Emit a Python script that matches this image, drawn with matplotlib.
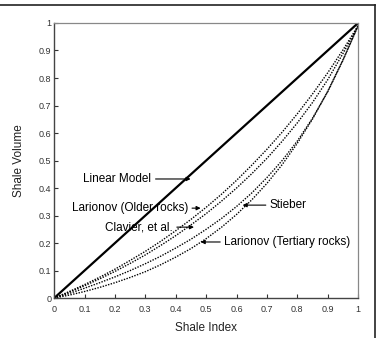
import matplotlib.pyplot as plt
from matplotlib.lines import Line2D

plt.rcParams['font.family'] = ['Liberation Sans', 'DejaVu Sans']

# Valeurs (indice de schiste -> volume de schiste)
shale_index = [0.0, 0.05, 0.1, 0.15, 0.2, 0.25, 0.3, 0.35, 0.4, 0.45, 0.5,
               0.55, 0.6, 0.65, 0.7, 0.75, 0.8, 0.85, 0.9, 0.95, 1.0]
linear_model = [0.0, 0.05, 0.1, 0.15, 0.2, 0.25, 0.3, 0.35, 0.4, 0.45, 0.5,
                0.55, 0.6, 0.65, 0.7, 0.75, 0.8, 0.85, 0.9, 0.95, 1.0]
larionov_older = [0.0, 0.024, 0.049, 0.076, 0.105, 0.137, 0.170, 0.206, 0.245, 0.286, 0.330,
                  0.377, 0.428, 0.483, 0.541, 0.603, 0.670, 0.742, 0.819, 0.902, 0.99]
clavier = [0.0, 0.022, 0.045, 0.070, 0.097, 0.126, 0.157, 0.191, 0.227, 0.266, 0.307,
           0.352, 0.400, 0.452, 0.508, 0.570, 0.637, 0.711, 0.794, 0.889, 0.99]
stieber = [0.0, 0.017, 0.036, 0.056, 0.077, 0.100, 0.125, 0.152, 0.182, 0.214, 0.250,
           0.289, 0.333, 0.382, 0.438, 0.500, 0.571, 0.654, 0.750, 0.864, 0.99]
larionov_tertiary = [0.0, 0.011, 0.024, 0.039, 0.056, 0.075, 0.096, 0.121, 0.149, 0.180, 0.216,
                     0.257, 0.304, 0.357, 0.417, 0.485, 0.563, 0.651, 0.752, 0.866, 0.99]

ticks = [0, 0.1, 0.2, 0.3, 0.4, 0.5, 0.6, 0.7, 0.8, 0.9, 1]
tick_labels = ['0', '0.1', '0.2', '0.3', '0.4', '0.5', '0.6', '0.7', '0.8', '0.9', '1']

fig = plt.figure(figsize=(3.81, 3.38), dpi=100)
ax = fig.add_axes([0.142, 0.118, 0.798, 0.814])

dot = (0, (1, 1))
ax.plot(shale_index, linear_model, color='black', lw=1.6, solid_capstyle='round')
ax.plot(shale_index, larionov_older, color='black', lw=1.0, linestyle=dot)
ax.plot(shale_index, clavier, color='black', lw=1.0, linestyle=dot)
ax.plot(shale_index, stieber, color='black', lw=1.0, linestyle=dot)
ax.plot(shale_index, larionov_tertiary, color='black', lw=1.0, linestyle=dot)

ax.set_xlim(0, 1)
ax.set_ylim(0, 1)
ax.set_xticks(ticks)
ax.set_xticklabels(tick_labels)
ax.set_yticks(ticks)
ax.set_yticklabels(tick_labels)
ax.tick_params(direction='in', length=3, width=0.8, labelsize=6.5, colors='#333333')
ax.tick_params(axis='x', pad=5)
ax.tick_params(axis='y', pad=2)

for side in ['left', 'bottom']:
    ax.spines[side].set_color('#444444')
    ax.spines[side].set_linewidth(1.0)
for side in ['top', 'right']:
    ax.spines[side].set_color('#888888')
    ax.spines[side].set_linewidth(0.9)

ax.set_xlabel('Shale Index', fontsize=8.5, labelpad=6, color='#222222')
ax.set_ylabel('Shale Volume', fontsize=8.5, labelpad=10, color='#222222')

# Annotations avec flèches
arrow = dict(arrowstyle='-|>', lw=0.8, color='black', mutation_scale=6, shrinkA=1, shrinkB=0)
ax.annotate('Linear Model', xy=(0.449, 0.433), xytext=(0.32, 0.433),
            ha='right', va='center', fontsize=8.5, arrowprops=arrow)
ax.annotate('Larionov (Older rocks)', xy=(0.482, 0.327), xytext=(0.44, 0.327),
            ha='right', va='center', fontsize=8.5, arrowprops=arrow)
ax.annotate('Clavier, et al.', xy=(0.46, 0.258), xytext=(0.39, 0.258),
            ha='right', va='center', fontsize=8.5, arrowprops=arrow)
ax.annotate('Stieber', xy=(0.62, 0.338), xytext=(0.71, 0.338),
            ha='left', va='center', fontsize=8.5, arrowprops=arrow)
ax.annotate('Larionov (Tertiary rocks)', xy=(0.482, 0.204), xytext=(0.56, 0.204),
            ha='left', va='center', fontsize=8.5, arrowprops=arrow)

# Cadre extérieur (coupé à gauche et en bas)
fig.add_artist(Line2D([0, 375 / 381], [1 - 5 / 338, 1 - 5 / 338],
                      transform=fig.transFigure, color='#222222', lw=1.2))
fig.add_artist(Line2D([375 / 381, 375 / 381], [0, 1 - 5 / 338],
                      transform=fig.transFigure, color='#222222', lw=1.2))

fig.savefig('out.png', dpi=100)
